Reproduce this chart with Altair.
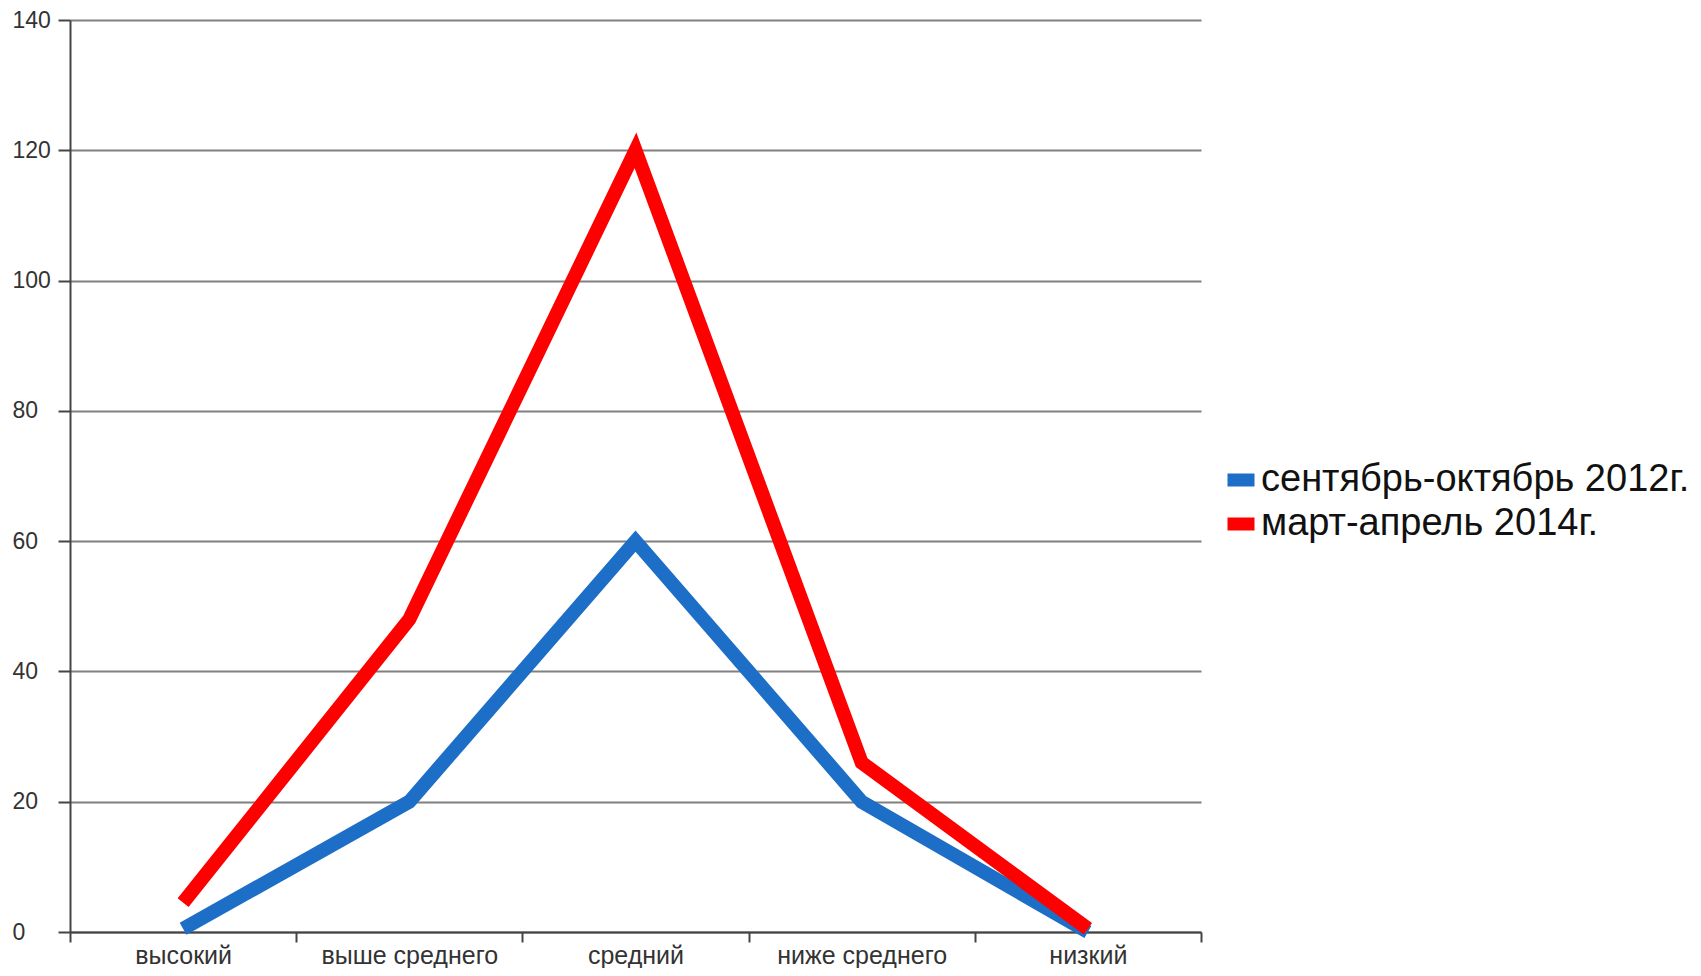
import altair as alt
import pandas as pd

categories = ["высокий", "выше среднего", "средний", "ниже среднего", "низкий"]
series_names = ["сентябрь-октябрь 2012г.", "март-апрель 2014г."]
values_2012 = [0.5, 20, 60, 20, 0]
values_2014 = [4.5, 48, 120, 26, 0.5]
colors = ["#1c6ec6", "#ff0000"]

rows = []
for s, vals in zip(series_names, [values_2012, values_2014]):
    for i, (c, v) in enumerate(zip(categories, vals)):
        rows.append({"cat": c, "series": s, "value": v, "order": i})
df = pd.DataFrame(rows)

font = "Liberation Sans"

chart = alt.Chart(df).mark_line(
    strokeWidth=14, strokeJoin="miter", strokeCap="butt"
).encode(
    x=alt.X("cat:N", sort=categories, bandPosition=0.5,
            scale=alt.Scale(type="band", paddingInner=0, paddingOuter=0),
            axis=alt.Axis(title=None, labelAngle=0, tickBand="extent", grid=False,
                          domainColor="#444444", domainWidth=2, tickColor="#444444",
                          tickWidth=2, tickSize=10, labelPadding=13, labelLimit=400,
                          labelBaseline="middle",
                          labelFont=font, labelFontSize=25, labelColor="#333333")),
    y=alt.Y("value:Q", scale=alt.Scale(domain=[0, 140], nice=False),
            axis=alt.Axis(title=None, values=[0, 20, 40, 60, 80, 100, 120, 140],
                          grid=True, gridColor="#808080", gridWidth=2,
                          domainColor="#444444", domainWidth=2, tickColor="#444444",
                          tickWidth=2, tickSize=12, labelPadding=46, labelAlign="left",
                          labelFont=font, labelFontSize=23, labelColor="#333333")),
    color=alt.Color("series:N", sort=series_names,
                    scale=alt.Scale(domain=series_names, range=colors),
                    legend=alt.Legend(title=None, orient="none", legendX=1151, legendY=438,
                                      symbolType="stroke", symbolSize=729,
                                      symbolStrokeWidth=13, clipHeight=44,
                                      labelFont=font, labelFontSize=38, labelColor="#111111",
                                      labelOffset=0, rowPadding=0, labelLimit=700)),
    order=alt.Order("order:Q"),
).properties(
    width=1131, height=912,
    autosize=alt.AutoSizeParams(type="none"),
    padding={"left": 62, "top": 12, "right": 490, "bottom": 36},
).configure(background="white").configure_view(strokeWidth=0, stroke=None)

chart.save("out.html", embed_options={"renderer": "svg", "actions": False})
